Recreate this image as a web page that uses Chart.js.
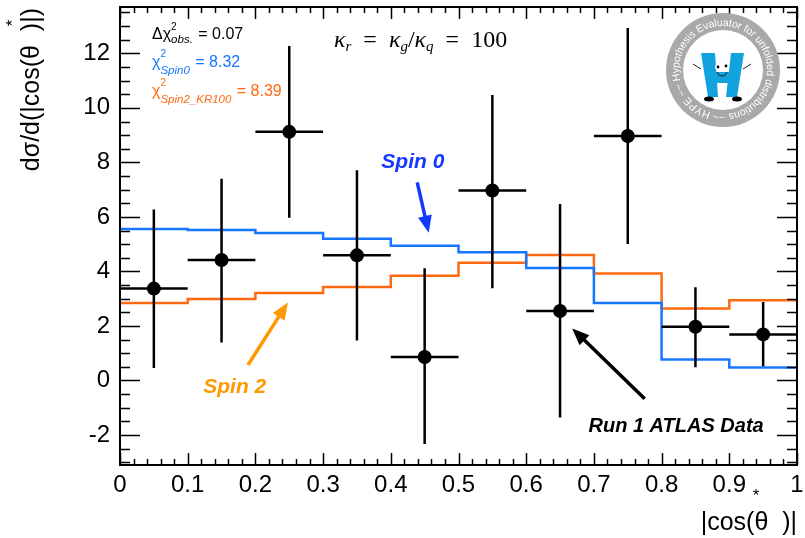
<!DOCTYPE html>
<html>
<head>
<meta charset="utf-8">
<script src="https://cdn.jsdelivr.net/npm/chart.js@4.4.1/dist/chart.umd.min.js"></script>
<style>
  html, body { margin: 0; padding: 0; background: #fff; }
  canvas { display: block; }
</style>
</head>
<body>
<canvas id="c" width="805" height="538"></canvas>
<script>
// bins of |cos(theta*)|
const binEdges = [0, 0.1, 0.2, 0.3, 0.4, 0.5, 0.6, 0.7, 0.8, 0.9, 1.0];
const binCenters = [0.05, 0.15, 0.25, 0.35, 0.45, 0.55, 0.65, 0.75, 0.85, 0.95];

// Run 1 ATLAS data with error bar ends
const dataY  = [3.37, 4.42, 9.12, 4.59, 0.86, 6.97, 2.55, 8.97, 1.97, 1.69];
const dataHi = [6.27, 7.40, 12.27, 7.71, 4.12, 10.47, 6.47, 12.93, 3.42, 2.88];
const dataLo = [0.46, 1.39, 5.97, 1.47, -2.33, 3.38, -1.36, 5.01, 0.49, 0.52];

// predictions
const spin0 = [5.56, 5.52, 5.41, 5.20, 4.94, 4.70, 4.13, 2.84, 0.77, 0.48];
const spin2 = [2.84, 2.99, 3.21, 3.43, 3.84, 4.32, 4.60, 3.92, 2.64, 2.94];

// axes
const xTickValues = [0, 0.1, 0.2, 0.3, 0.4, 0.5, 0.6, 0.7, 0.8, 0.9, 1];
const xTickLabels = ['0', '0.1', '0.2', '0.3', '0.4', '0.5', '0.6', '0.7', '0.8', '0.9', '1'];
const yTickValues = [-2, 0, 2, 4, 6, 8, 10, 12];

const FONT = "'Liberation Sans', Arial, Helvetica, sans-serif";
const BLUE = '#1576ff';
const ORANGE = '#ff6a10';

function stepPoints(vals) {
    let pts = vals.map((v, i) => ({x: binEdges[i], y: v}));
    pts.push({x: binEdges[binEdges.length - 1], y: vals[vals.length - 1]});
    return pts;
}

// ROOT style frame with ticks pointing inwards on all four sides
const frameTicks = {
    id: 'frameTicks',
    afterDatasetsDraw(chart) {
        const c = chart.ctx, a = chart.chartArea;
        const xs = chart.scales.x, ys = chart.scales.y;
        c.save();
        c.strokeStyle = '#000';
        c.lineWidth = 1.5;
        c.beginPath();
        for (let k = 0; k <= 50; k++) {
            let v = k * 0.02;
            let px = Math.round(xs.getPixelForValue(v)) + 0.5;
            let len = (k % 5 === 0) ? 12 : 6;
            c.moveTo(px, a.bottom); c.lineTo(px, a.bottom - len);
            c.moveTo(px, a.top); c.lineTo(px, a.top + len);
        }
        for (let v = -3; v <= 13.7; v += 0.5) {
            let py = Math.round(ys.getPixelForValue(v)) + 0.5;
            let len = (v % 2 === 0) ? 20 : 10;
            c.moveTo(a.left, py); c.lineTo(a.left + len, py);
            c.moveTo(a.right, py); c.lineTo(a.right - len, py);
        }
        c.stroke();
        c.lineWidth = 2;
        c.strokeRect(a.left, a.top, a.right - a.left, a.bottom - a.top);
        c.restore();
    }
};

// error bars of the data points
const errorBars = {
    id: 'errorBars',
    afterDatasetsDraw(chart) {
        const c = chart.ctx, xs = chart.scales.x, ys = chart.scales.y;
        c.save();
        c.strokeStyle = '#000';
        c.lineWidth = 2.5;
        c.beginPath();
        for (let i = 0; i < binCenters.length; i++) {
            let cx = xs.getPixelForValue(binCenters[i]);
            let cy = ys.getPixelForValue(dataY[i]);
            c.moveTo(cx, ys.getPixelForValue(dataHi[i]));
            c.lineTo(cx, ys.getPixelForValue(dataLo[i]));
            c.moveTo(xs.getPixelForValue(binEdges[i]), cy);
            c.lineTo(xs.getPixelForValue(binEdges[i + 1]), cy);
        }
        c.stroke();
        c.fillStyle = '#000';
        for (let i = 0; i < binCenters.length; i++) {
            c.beginPath();
            c.arc(xs.getPixelForValue(binCenters[i]), ys.getPixelForValue(dataY[i]), 7, 0, Math.PI * 2);
            c.fill();
        }
        c.restore();
    }
};

function arrow(c, x1, y1, x2, y2, color) {
    let ang = Math.atan2(y2 - y1, x2 - x1);
    let hl = 17, hw = 7;
    let bx = x2 - hl * Math.cos(ang), by = y2 - hl * Math.sin(ang);
    c.strokeStyle = color; c.fillStyle = color; c.lineWidth = 3.5;
    c.beginPath(); c.moveTo(x1, y1); c.lineTo(bx + 2 * Math.cos(ang), by + 2 * Math.sin(ang)); c.stroke();
    c.beginPath();
    c.moveTo(x2, y2);
    c.lineTo(bx + hw * Math.sin(ang), by - hw * Math.cos(ang));
    c.lineTo(bx - hw * Math.sin(ang), by + hw * Math.cos(ang));
    c.closePath(); c.fill();
}

// text with optional stacked super/subscript
function rich(c, x, y, parts) {
    for (const p of parts) {
        c.fillStyle = p.color || '#000';
        if (p.sup !== undefined) {
            c.font = p.font;
            let w1 = c.measureText(p.sup).width;
            c.fillText(p.sup, x, y + p.supDy);
            c.font = p.subFont;
            let w2 = c.measureText(p.sub).width;
            c.fillText(p.sub, x, y + p.subDy);
            x += Math.max(w1, w2) + 1;
        } else {
            c.font = p.font;
            c.fillText(p.t, x, y + (p.dy || 0));
            x += c.measureText(p.t).width;
        }
    }
    return x;
}

function drawLogo(c, cx, cy) {
    c.save();
    c.fillStyle = '#a9a9a9';
    c.beginPath(); c.arc(cx, cy, 57, 0, Math.PI * 2); c.fill();
    c.fillStyle = '#fff';
    c.beginPath(); c.arc(cx, cy, 40, 0, Math.PI * 2); c.fill();

    // ring text, clockwise
    const txt = 'Hypothesis Evaluator for unfolded distributions ~~ HYPE ~~ ';
    c.font = '10.5px ' + FONT;
    let widths = [...txt].map(ch => c.measureText(ch).width);
    let total = widths.reduce((s, w) => s + w, 0);
    let r = 44;
    let ang = 166 * Math.PI / 180;
    let k = (Math.PI * 2) / total;
    c.fillStyle = '#fff';
    c.textAlign = 'center';
    c.textBaseline = 'alphabetic';
    [...txt].forEach((ch, i) => {
        let a = ang + widths[i] * k / 2;
        c.save();
        c.translate(cx + r * Math.cos(a), cy + r * Math.sin(a));
        c.rotate(a + Math.PI / 2);
        c.fillText(ch, 0, 0);
        c.restore();
        ang += widths[i] * k;
    });

    // the H mascot
    c.fillStyle = '#12a3df';
    c.beginPath();
    c.moveTo(cx - 22, cy - 17); c.lineTo(cx - 8, cy - 17); c.lineTo(cx - 5, cy + 27); c.lineTo(cx - 15, cy + 27);
    c.closePath(); c.fill();
    c.beginPath();
    c.moveTo(cx + 8, cy - 17); c.lineTo(cx + 21, cy - 17); c.lineTo(cx + 14, cy + 27); c.lineTo(cx + 3, cy + 27);
    c.closePath(); c.fill();
    c.fillRect(cx - 9, cy + 2, 19, 11);
    c.strokeStyle = '#222'; c.lineWidth = 1;
    c.beginPath();
    c.moveTo(cx - 22, cy - 1); c.lineTo(cx - 30, cy - 6);
    c.moveTo(cx + 20, cy - 1); c.lineTo(cx + 28, cy - 6);
    c.stroke();
    c.fillStyle = '#fff';
    c.beginPath(); c.arc(cx - 5, cy - 3, 3, 0, Math.PI * 2); c.fill();
    c.beginPath(); c.arc(cx + 3, cy - 4, 3, 0, Math.PI * 2); c.fill();
    c.fillStyle = '#000';
    c.beginPath(); c.arc(cx - 5, cy - 3, 1.4, 0, Math.PI * 2); c.fill();
    c.beginPath(); c.arc(cx + 3, cy - 4, 1.4, 0, Math.PI * 2); c.fill();
    c.beginPath(); c.arc(cx - 1, cy + 1, 5, 0.2, Math.PI - 0.2); c.stroke();
    c.beginPath(); c.ellipse(cx - 14, cy + 29, 5, 2.5, 0, 0, Math.PI * 2); c.fill();
    c.beginPath(); c.ellipse(cx + 14, cy + 29, 5, 2.5, 0, 0, Math.PI * 2); c.fill();
    c.restore();
}

const annotations = {
    id: 'annotations',
    afterDraw(chart) {
        const c = chart.ctx, xs = chart.scales.x, ys = chart.scales.y, a = chart.chartArea;
        const X = v => xs.getPixelForValue(v), Y = v => ys.getPixelForValue(v);
        c.save();
        c.textBaseline = 'alphabetic';
        c.textAlign = 'left';

        // statistics box
        const big = '16px ' + FONT, sm = '10px ' + FONT, smi = 'italic 11.5px ' + FONT;
        rich(c, 152, 39, [
            {t: '\u0394\u03c7', font: big},
            {sup: '2', sub: 'obs.', font: sm, subFont: smi, supDy: -9, subDy: 4},
            {t: ' = 0.07', font: big}
        ]);
        rich(c, 152, 67, [
            {t: '\u03c7', font: big, color: BLUE},
            {sup: '2', sub: 'Spin0', font: sm, subFont: smi, supDy: -10, subDy: 7, color: BLUE},
            {t: ' = 8.32', font: big, color: BLUE}
        ]);
        rich(c, 152, 96, [
            {t: '\u03c7', font: big, color: ORANGE},
            {sup: '2', sub: 'Spin2_KR100', font: sm, subFont: smi, supDy: -10, subDy: 7, color: ORANGE},
            {t: ' = 8.39', font: big, color: ORANGE}
        ]);

        // coupling label
        const ser = "24px 'Liberation Serif', 'DejaVu Serif', serif";
        const seri = "italic 24px 'Liberation Serif', 'DejaVu Serif', serif";
        const subi = "italic 15px 'Liberation Serif', 'DejaVu Serif', serif";
        rich(c, 334, 47, [
            {t: '\u03ba', font: seri}, {t: 'r', font: subi, dy: 4},
            {t: '  =  ', font: ser},
            {t: '\u03ba', font: seri}, {t: 'g', font: subi, dy: 4},
            {t: '/', font: ser},
            {t: '\u03ba', font: seri}, {t: 'q', font: subi, dy: 4},
            {t: '  =  100', font: ser}
        ]);

        // hand written labels and arrows
        c.font = 'bold italic 21px ' + FONT;
        c.fillStyle = '#1438ff';
        c.fillText('Spin 0', X(0.386), Y(7.79));
        arrow(c, X(0.439), Y(7.27), X(0.456), Y(5.42), '#1438ff');
        c.fillStyle = '#ff9900';
        c.fillText('Spin 2', X(0.123), Y(-0.45));
        arrow(c, X(0.189), Y(0.57), X(0.248), Y(2.86), '#ff9900');
        c.font = 'bold italic 20px ' + FONT;
        c.fillStyle = '#000';
        c.fillText('Run 1 ATLAS Data', X(0.692), Y(-1.88));
        arrow(c, X(0.775), Y(-0.67), X(0.668), Y(1.91), '#000');

        drawLogo(c, 723, 70);

        // axis titles
        c.fillStyle = '#000';
        c.font = '25px ' + FONT;
        c.textAlign = 'right';
        c.fillText('|cos(\u03b8  )|', a.right, 530);
        c.font = '17px ' + FONT;
        c.textAlign = 'center';
        c.fillText('*', 756, 501);

        c.save();
        c.translate(39, a.top + 1);
        c.rotate(-Math.PI / 2);
        c.font = '25px ' + FONT;
        c.textAlign = 'right';
        c.fillText('d\u03c3/d(|cos(\u03b8  )|)', 0, 0);
        c.font = '17px ' + FONT;
        c.textAlign = 'center';
        c.fillText('*', -15, -21);
        c.restore();

        c.restore();
    }
};

const tickFont = {family: FONT, size: 24};

new Chart(document.getElementById('c').getContext('2d'), {
    type: 'line',
    data: {
        datasets: [{
            label: 'Run 1 ATLAS Data',
            data: binCenters.map((x, i) => ({x: x, y: dataY[i]})),
            showLine: false,
            pointRadius: 0,
            borderColor: '#000',
            backgroundColor: '#000'
        }, {
            label: 'Spin 0',
            data: stepPoints(spin0),
            stepped: true,
            borderColor: BLUE,
            borderWidth: 2.5,
            pointRadius: 0,
            fill: false
        }, {
            label: 'Spin 2',
            data: stepPoints(spin2),
            stepped: true,
            borderColor: ORANGE,
            borderWidth: 2.5,
            pointRadius: 0,
            fill: false
        }]
    },
    options: {
        responsive: false,
        animation: false,
        devicePixelRatio: 1,
        layout: {padding: {top: 7, right: 8, left: 0, bottom: 0}},
        plugins: {legend: {display: false}, tooltip: {enabled: false}},
        scales: {
            x: {
                type: 'linear', min: 0, max: 1,
                grid: {display: false, drawTicks: false},
                border: {display: false},
                afterBuildTicks: s => { s.ticks = xTickValues.map(v => ({value: v})); },
                afterFit: s => { s.height = 73; s.paddingLeft = 0; s.paddingRight = 0; },
                ticks: {
                    autoSkip: false, maxRotation: 0, padding: 6, color: '#000', font: tickFont,
                    callback: (v, i) => xTickLabels[i]
                }
            },
            y: {
                type: 'linear', min: -3.1, max: 13.7,
                grid: {display: false, drawTicks: false},
                border: {display: false},
                afterBuildTicks: s => { s.ticks = yTickValues.map(v => ({value: v})); },
                afterFit: s => { s.width = 120; s.paddingTop = 0; s.paddingBottom = 0; },
                ticks: {padding: 10, color: '#000', font: tickFont}
            }
        }
    },
    plugins: [errorBars, frameTicks, annotations]
});
</script>
</body>
</html>
